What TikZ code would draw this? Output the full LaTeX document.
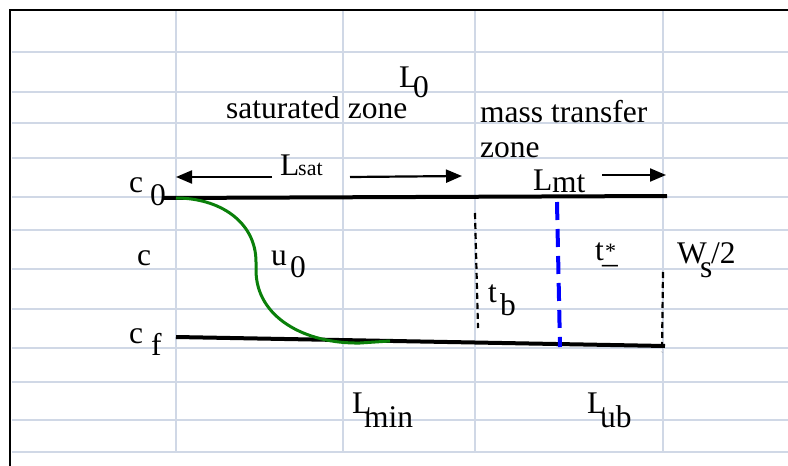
\documentclass[tikz,border=0pt]{standalone}
\usepackage{fontspec}
\setmainfont{Liberation Serif}
\usetikzlibrary{arrows.meta}
\definecolor{gridc}{RGB}{208,216,230}
\definecolor{curvegreen}{RGB}{10,128,10}
\begin{document}
\begin{tikzpicture}[x=1pt,y=-1pt,
  gridline/.style={gridc, line width=1.6pt},
  frameline/.style={black, line width=2pt},
  bar/.style={black, line width=4pt},
  dimarrow/.style={-{Triangle[length=16pt,width=13pt]}, line width=2.2pt},
  lbl/.style={inner sep=0pt, anchor=base west, font=\fontsize{31.5}{36}\selectfont},
  smalllbl/.style={lbl, font=\fontsize{22}{26}\selectfont},
  tdash/.style={black, line width=2.2pt, dash pattern=on 6pt off 4pt},
  bdash/.style={blue, line width=4pt, dash pattern=on 18pt off 9pt},
  profile/.style={curvegreen, line width=3pt}]
\useasboundingbox (0,0) rectangle (788,466);
\fill[white] (0,0) rectangle (788,466);
% grid
\foreach \y in {52,92,123,158,197,230,269,309,348,382,420,452}
  \draw[gridline] (12,\y) -- (788,\y);
\foreach \x in {176,343,475,663}
  \draw[gridline] (\x,10) -- (\x,453);
% frame
\draw[frameline] (9,10) -- (788,10);
\draw[frameline] (10,9) -- (10,466);

% coordinates
\coordinate (topL) at (163,198);
\coordinate (topR) at (667,196);
\coordinate (botL) at (176,337);
\coordinate (botR) at (665,346);
\coordinate (tbT) at (475,213);
\coordinate (tbB) at (478,328);
\coordinate (blT) at (557,202);
\coordinate (blB) at (560,347);
\coordinate (wsT) at (663,272);
\coordinate (wsB) at (662,352);
\coordinate (satTail) at (272,177);
\coordinate (satTip) at (176,177);
\coordinate (sat2Tail) at (350,177);
\coordinate (sat2Tip) at (462,176);
\coordinate (mtTail) at (602,175);
\coordinate (mtTip) at (666,175);
\coordinate (uStart) at (176,198);
\coordinate (uEnd) at (390,341);

% bars
\draw[bar] (topL) -- (topR);
\draw[bar] (botL) -- (botR);

% green profile
\draw[profile] (uStart) .. controls (220,198) and (256,222) .. (256,262)
  -- (256,270) .. controls (256,318) and (306,344) .. (360,343) -- (uEnd);

% dashed lines
\draw[tdash] (tbT) -- (tbB);
\draw[bdash] (blT) -- (blB);
\draw[tdash] (wsT) -- (wsB);

% arrows
\draw[dimarrow] (satTail) -- (satTip);
\draw[dimarrow] (sat2Tail) -- (sat2Tip);
\draw[dimarrow] (mtTail) -- (mtTip);

% labels
\node[lbl] (satzone) at (226,118) {saturated zone};
\node[lbl] (L0L) at (399,87) {L};
\node[lbl] (L0s) at (413,97) {0};
\node[lbl] (mass) at (480,122) {mass transfer};
\node[lbl] (zone) at (480,157) {zone};
\node[lbl] (LsatL) at (280,175) {L};
\node[smalllbl] (Lsats) at (298,175) {sat};
\node[lbl] (LmtL) at (533,190) {L};
\node[lbl] (Lmts) at (552,192) {mt};
\node[lbl] (c0c) at (129,192) {c};
\node[lbl] (c0s) at (150,205) {0};
\node[lbl] (cc) at (137,265) {c};
\node[lbl] (cfc) at (129,343) {c};
\node[lbl] (cfs) at (151,355) {f};
\node[lbl] (u0u) at (271,265) {u};
\node[lbl] (u0s) at (290,277) {0};
\node[lbl] (tbt) at (488,302) {t};
\node[lbl] (tbs) at (500,315) {b};
\node[lbl] (tst) at (595,260) {t};
\node[smalllbl] (tss) at (605,258) {*};
\node[lbl] (tsm) at (602,273) {–};
\node[lbl] (wsW) at (677,263) {W};
\node[lbl] (wss) at (700,277) {s};
\node[lbl] (wsh) at (711,263) {/2};
\node[lbl] (LminL) at (352,413) {L};
\node[lbl] (Lmins) at (364,427) {min};
\node[lbl] (LubL) at (587,413) {L};
\node[lbl] (Lubs) at (600,427) {ub};
\end{tikzpicture}
\end{document}
